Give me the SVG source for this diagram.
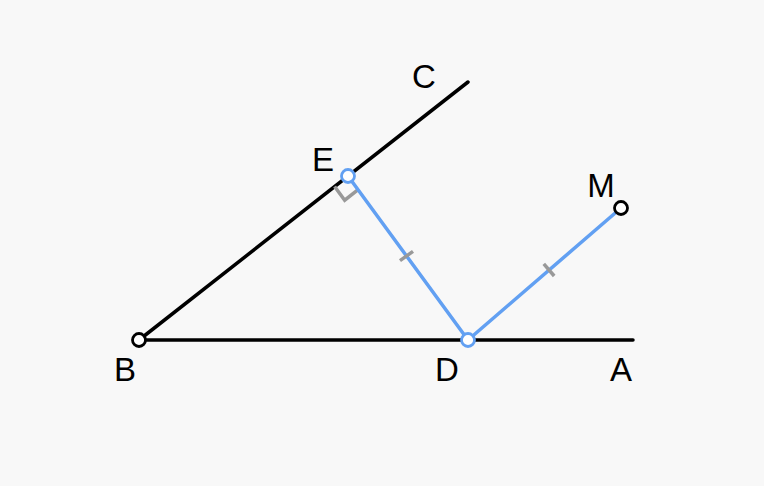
<svg xmlns="http://www.w3.org/2000/svg" width="764" height="486" viewBox="0 0 764 486">
<style>
.k{stroke:#000;stroke-width:3.5;fill:none;stroke-linecap:round}
.b{stroke:#62a0f2;stroke-width:3.5;fill:none;stroke-linecap:round}
.g{stroke:#999;stroke-width:3.5;fill:none}
.pk{fill:#fff;stroke:#000;stroke-width:2.8}
.pb{fill:#fff;stroke:#62a0f2;stroke-width:2.8}
text{font-family:"Liberation Sans",Arial,sans-serif;font-size:33px;fill:#000;text-anchor:middle}
</style>
<rect width="764" height="486" fill="#f8f8f8"/>
<g id="connectors">
<line class="k" x1="139" y1="340" x2="633" y2="340"/>
<line class="k" x1="139" y1="340" x2="468" y2="82"/>
<polyline class="g" points="334.6,186.5 344.7,200.2 358.1,189.7"/>
<line class="b" x1="348" y1="176" x2="468" y2="340"/>
<line class="b" x1="468" y1="340" x2="621" y2="208"/>
<line class="g" x1="400" y1="260.7" x2="413" y2="251.3"/>
<line class="g" x1="543.8" y1="263.9" x2="554.2" y2="276"/>
</g>
<g id="B"><circle class="pk" cx="139" cy="340" r="6.5"/><text x="125" y="381">B</text></g>
<g id="A"><text x="621" y="381">A</text></g>
<g id="C"><text x="424" y="88">C</text></g>
<g id="E"><circle class="pb" cx="348" cy="176" r="6.5"/><text x="323" y="171">E</text></g>
<g id="D"><circle class="pb" cx="468" cy="340" r="6.5"/><text x="447" y="381">D</text></g>
<g id="M"><circle class="pk" cx="621" cy="208" r="6.5"/><text x="601" y="197">M</text></g>
</svg>
